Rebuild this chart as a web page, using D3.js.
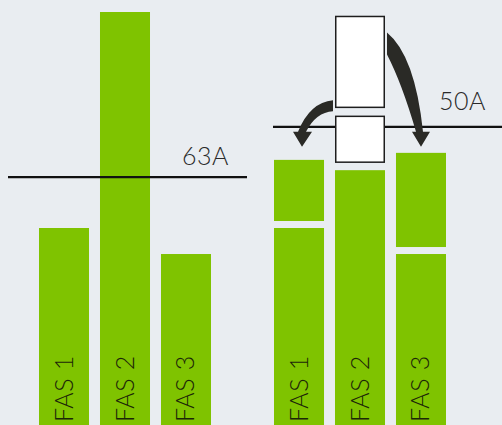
<!DOCTYPE html>
<html>
<head>
<meta charset="utf-8">
<script src="https://cdn.jsdelivr.net/npm/d3@7"></script>
<style>
  html, body { margin: 0; padding: 0; background: #e9edf1; }
  svg { display: block; }
</style>
</head>
<body>
<script>
// ---- data ----
const phases = ["FAS 1", "FAS 2", "FAS 3"];
const beforeLoad = [47.7, 100, 41.4];          // left group, unbalanced load
const beforeLimit = 60.0;                      // level of the 63A line
const beforeLimitLabel = "63A";
const afterBase = [47.7, 61.7, 41.4];          // right group, remaining load
const afterShifted = [14.8, 0, 22.8];          // load moved onto each phase
const movedFromFas2 = [11.1, 22.0];            // boxes: to FAS 1, to FAS 3
const afterLimit = 72.2;                       // level of the 50A line
const afterLimitLabel = "50A";

// ---- setup ----
const W = 502, H = 425;
const green = "#7fc300", bg = "#e9edf1", ink = "#2a2a26";
const font = "Lato, 'Open Sans', sans-serif";

const svg = d3.select("body").append("svg").attr("width", W).attr("height", H);
svg.append("rect").attr("width", W).attr("height", H).attr("fill", bg);

const y = d3.scaleLinear().domain([0, 100]).range([425, 12]);
const xL = d3.scaleBand().domain(phases).range([39, 211]).paddingInner(0.18);
const xR = d3.scaleBand().domain(phases).range([274, 446]).paddingInner(0.18);
const bw = xL.bandwidth();
const gap = 7;

// ---- left group ----
svg.selectAll("rect.before").data(phases).join("rect")
  .attr("class", "before")
  .attr("x", d => xL(d)).attr("width", bw)
  .attr("y", (d, i) => y(beforeLoad[i]))
  .attr("height", (d, i) => y(0) - y(beforeLoad[i]))
  .attr("fill", green);

svg.append("line")
  .attr("x1", 8).attr("x2", 247)
  .attr("y1", y(beforeLimit)).attr("y2", y(beforeLimit))
  .attr("stroke", "#111").attr("stroke-width", 2.2);
svg.append("text")
  .attr("x", 229).attr("y", y(beforeLimit) - 12)
  .attr("text-anchor", "end")
  .attr("font-family", font).attr("font-weight", 300).attr("font-size", 25)
  .attr("letter-spacing", 0.5)
  .attr("fill", "#2a2a2a").text(beforeLimitLabel);

// ---- right group ----
svg.selectAll("rect.after").data(phases).join("rect")
  .attr("class", "after")
  .attr("x", d => xR(d)).attr("width", bw)
  .attr("y", (d, i) => y(afterBase[i]))
  .attr("height", (d, i) => y(0) - y(afterBase[i]))
  .attr("fill", green);

svg.selectAll("rect.shifted").data(phases.filter((d, i) => afterShifted[i] > 0)).join("rect")
  .attr("class", "shifted")
  .attr("x", d => xR(d)).attr("width", bw)
  .attr("y", d => { const i = phases.indexOf(d); return y(afterBase[i]) - gap - (y(0) - y(afterShifted[i])); })
  .attr("height", d => { const i = phases.indexOf(d); return y(0) - y(afterShifted[i]); })
  .attr("fill", green);

svg.append("line")
  .attr("x1", 273).attr("x2", W)
  .attr("y1", y(afterLimit)).attr("y2", y(afterLimit))
  .attr("stroke", "#111").attr("stroke-width", 2.2);
svg.append("text")
  .attr("x", 486).attr("y", y(afterLimit) - 17)
  .attr("text-anchor", "end")
  .attr("font-family", font).attr("font-weight", 300).attr("font-size", 25)
  .attr("letter-spacing", 0.5)
  .attr("fill", "#2a2a2a").text(afterLimitLabel);

// boxes above FAS 2 (moved load)
const bx = xR("FAS 2");
const lowBottom = y(afterBase[1]) - 8;
const lowTop = lowBottom - (y(0) - y(movedFromFas2[0]));
const upBottom = lowTop - 9;
const upTop = upBottom - (y(0) - y(movedFromFas2[1]));
[[lowTop, lowBottom], [upTop, upBottom]].forEach(([t, b]) => {
  svg.append("rect")
    .attr("x", bx + 0.75).attr("y", t)
    .attr("width", bw - 1.5).attr("height", b - t)
    .attr("fill", "#fff").attr("stroke", "#1e1e1e").attr("stroke-width", 1.5);
});

// arrows
const headY = y(afterLimit) + 5;
{
  const sx = bx + bw + 2, sy = upTop;
  const cx = xR("FAS 3") + bw / 2;
  const p = d3.path();
  p.moveTo(sx, sy + 16);
  p.quadraticCurveTo(sx + 28, sy + 39, cx + 2, headY);
  p.lineTo(cx + 9, headY);
  p.lineTo(cx, headY + 15);
  p.lineTo(cx - 9, headY);
  p.lineTo(cx - 5, headY);
  p.quadraticCurveTo(sx + 15, sy + 67, sx, sy + 38);
  p.closePath();
  svg.append("path").attr("d", p.toString()).attr("fill", ink);
}
{
  const sx = bx - 2, sy = upBottom;
  const cx = xR("FAS 1") + bw / 2 + 3;
  const p = d3.path();
  p.moveTo(sx, sy - 7);
  p.quadraticCurveTo(sx - 23, sy - 5, cx - 4, headY);
  p.lineTo(cx - 9, headY);
  p.lineTo(cx, headY + 15);
  p.lineTo(cx + 10, headY);
  p.lineTo(cx + 4, headY);
  p.quadraticCurveTo(sx - 17, sy + 5, sx, sy + 4);
  p.closePath();
  svg.append("path").attr("d", p.toString()).attr("fill", ink);
}

// ---- bar labels ----
function labels(xs) {
  phases.forEach(d => {
    const cx = xs(d) + bw / 2 + 8.5;
    svg.append("text")
      .attr("transform", `translate(${cx},422) rotate(-90)`)
      .attr("font-family", font).attr("font-weight", 300).attr("font-size", 25)
      .attr("letter-spacing", 0.6)
      .attr("fill", "#1c2608").text(d);
  });
}
labels(xL);
labels(xR);
</script>
</body>
</html>
